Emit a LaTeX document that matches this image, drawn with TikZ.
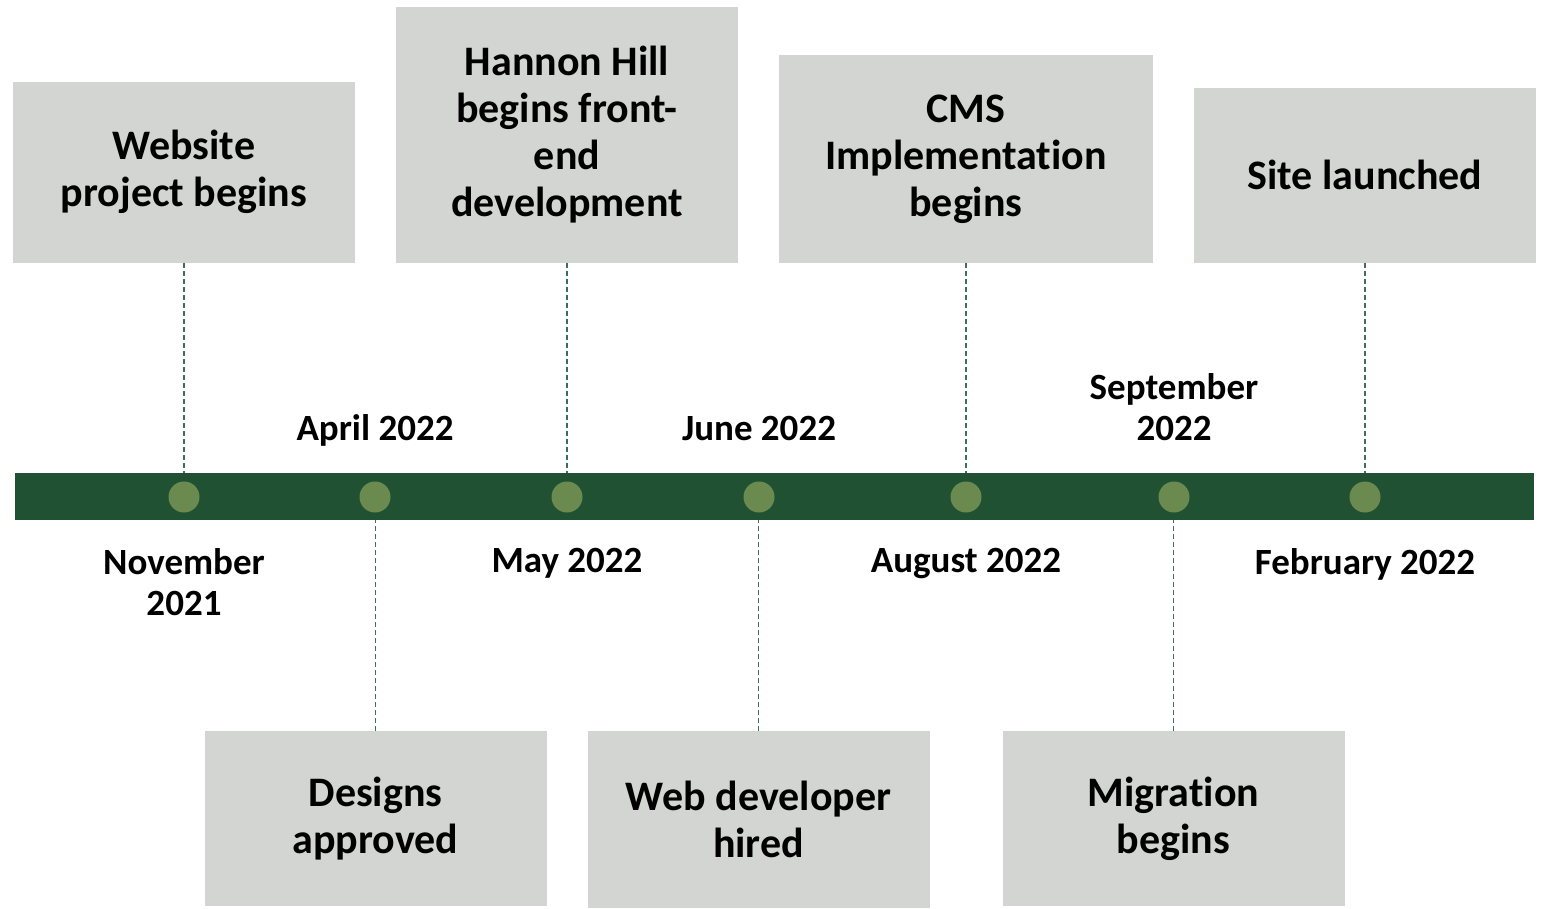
\documentclass[tikz,border=0pt]{standalone}
\usepackage{fontspec}
\setmainfont[Ligatures=NoCommon]{Carlito}
\usetikzlibrary{positioning}
\definecolor{bargreen}{HTML}{215133}
\definecolor{dotgreen}{HTML}{6B8A4F}
\definecolor{boxgray}{HTML}{D3D5D2}
\definecolor{linkgreen}{HTML}{3F6E5B}
\tikzset{
	event/.style={fill=boxgray, align=center, inner sep=0pt, minimum width=342pt, font=\bfseries\fontsize{42}{47}\selectfont},
	date/.style={align=center, inner sep=0pt, font=\bfseries\fontsize{37}{41}\selectfont},
	dot/.style={circle, fill=dotgreen, inner sep=0pt, minimum size=31pt},
	link/.style={draw=linkgreen, line width=1.2pt, dash pattern=on 5pt off 3pt}
}
\begin{document}
\begin{tikzpicture}[x=1pt, y=-1pt, line join=round]
	\useasboundingbox (0,0) rectangle (1549,909);
	\def\top{263} \def\bot{731} % Box edges
	% events above
	\node[event, anchor=south, minimum height=181pt] (website) at (184,\top) {Website\\project begins};
	\node[event, anchor=south, minimum height=256pt] (hannon) at (567,\top) {Hannon Hill\\begins front-\\end\\development};
	\node[event, anchor=south, minimum height=208pt, minimum width=374pt] (cms) at (966,\top) {CMS\\Implementation\\begins};
	\node[event, anchor=south, minimum height=175pt] (launch) at (1365,\top) {Site launched};
	% events below
	\node[event, anchor=north, minimum height=175pt] (designs) at (375.5,\bot) {Designs\\approved};
	\node[event, anchor=north, minimum height=177pt] (hired) at (758.5,\bot) {Web developer\\hired};
	\node[event, anchor=north, minimum height=175pt] (migration) at (1173.5,\bot) {Migration\\begins};
	% timeline
	\node[fill=bargreen, inner sep=0pt, minimum width=1519pt, minimum height=47pt] (bar) at (774.5,496.5) {};
	\foreach \x/\n in {184/nov,375/apr,567/may,759/jun,966/aug,1174/sep,1365/feb}
		\node[dot] (\n) at (\x,497) {};
	\foreach \n in {website,hannon,cms,launch}
		\draw[link] (\n.south) -- (\n.south |- bar.north);
	\foreach \n in {designs,hired,migration}
		\draw[link] (\n.north) -- (\n.north |- bar.south);
	% dates
	\node[date, anchor=south, text depth=0pt] (aprlbl) at (375,441) {April 2022};
	\node[date, anchor=south, text depth=0pt] (junlbl) at (759,441) {June 2022};
	\node[date, anchor=south, text depth=0pt] (seplbl) at (1174,441) {September\\2022};
	\node[date, anchor=north] (novlbl) at (184,548) {November\\2021};
	\node[date, anchor=north] (maylbl) at (567,548) {May 2022};
	\node[date, anchor=north] (auglbl) at (966,548) {August 2022};
	\node[date, anchor=north] (feblbl) at (1365,548) {February 2022};
\end{tikzpicture}
\end{document}
